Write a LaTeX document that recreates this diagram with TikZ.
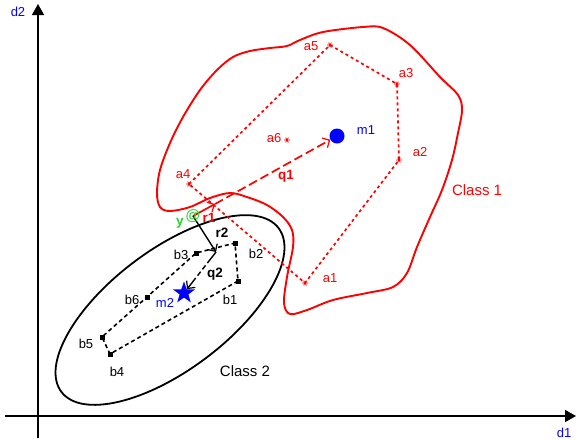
\documentclass[tikz,border=0pt]{standalone}
\usepackage{fontspec}
\setmainfont{Liberation Sans}
\usetikzlibrary{arrows.meta,shapes.geometric}
\definecolor{cred}{RGB}{255,0,0}
\definecolor{cblue}{RGB}{0,0,255}
\definecolor{cgreen}{RGB}{40,210,40}
\tikzset{
  lbl/.style={font=\fontsize{13}{15}\selectfont, inner sep=0},
  bld/.style={font=\fontsize{13.5}{15}\selectfont\bfseries, inner sep=0},
  biglbl/.style={font=\fontsize{15}{17}\selectfont, inner sep=0},
  axis/.style={line width=1.4pt, -{Triangle[length=11pt,width=12pt]}},
  reddots/.style={cred, line width=1.7pt, dash pattern=on 3pt off 3pt},
  blkdots/.style={black, line width=1.6pt, dash pattern=on 4pt off 3pt},
  sq/.style={fill=black, minimum size=5pt, inner sep=0},
  barb/.style={-{Straight Barb[length=5.5pt,width=11pt,line width=1.2pt]}},
  astk/.pic={\draw[cred, line width=0.8pt] (-2.8,0)--(2.8,0) (-1.4,-2.4)--(1.4,2.4) (-1.4,2.4)--(1.4,-2.4);}
}
\begin{document}
\begin{tikzpicture}[x=1pt,y=-1pt]
\useasboundingbox (0,0) rectangle (577,440);

% axes
\coordinate (o1) at (5,416);
\coordinate (xe) at (576,416);
\coordinate (o2) at (38,438);
\coordinate (ye) at (38,4);
\draw[axis] (o1) -- (xe);
\draw[axis] (o2) -- (ye);
\node[lbl, text=cblue] (d1) at (564,433) {d1};
\node[lbl, text=cblue] (d2) at (18,12) {d2};

% class 1 boundary
\draw[cred, line width=1.9pt] plot[smooth cycle, tension=0.55] coordinates {
  (160,207) (157,193) (160,170) (170,143) (183,117) (200,90) (217,70)
  (233,57) (250,51) (270,48) (287,46) (300,40) (323,32) (363,27) (383,28)
  (410,45) (440,77) (458,95) (462,110) (458,133) (452,160) (442,190)
  (430,217) (417,247) (407,273) (393,287) (367,293) (333,300) (307,310)
  (290,314) (284,303) (287,277) (293,247) (292,230) (283,217) (267,205)
  (247,197) (230,193) (210,198) (190,207) (170,211)};
\node[biglbl, text=cred] (c1) at (477,190) {Class 1};

% class 2 boundary
\draw[line width=1.8pt, rotate around={37:(170,310)}] (170,310) ellipse [x radius=136pt, y radius=60pt];
\node[biglbl] (c2) at (245,371) {Class 2};

% class 1 samples
\coordinate (a1) at (305,283);
\coordinate (a2) at (399,160);
\coordinate (a3) at (397,84);
\coordinate (a4) at (189,184);
\coordinate (a5) at (330,45);
\coordinate (a6) at (287,140);
\draw[reddots] (a4) -- (a5) -- (a3) -- (a2) -- (a1) -- cycle;
\foreach \p in {a1,a2,a3,a4,a5,a6} \pic at (\p) {astk};
\node[lbl, text=cred] (la1) at (330,278) {a1};
\node[lbl, text=cred] (la2) at (420,152) {a2};
\node[lbl, text=cred] (la3) at (406,73) {a3};
\node[lbl, text=cred] (la4) at (183,174) {a4};
\node[lbl, text=cred] (la5) at (311,46) {a5};
\node[lbl, text=cred] (la6) at (274,138) {a6};

% class 2 samples
\coordinate (b1) at (238,281);
\coordinate (b2) at (235,243);
\coordinate (b3) at (196,253);
\coordinate (b4) at (110,354);
\coordinate (b5) at (102,337);
\coordinate (b6) at (147,297);
\draw[blkdots] (b1) -- (b4) -- (b5) -- (b6) -- (b3) -- (b2) -- cycle;
\foreach \p in {b1,b2,b3,b4,b5,b6} \node[sq] (s\p) at (\p) {};
\node[lbl] (lb1) at (230,300) {b1};
\node[lbl] (lb2) at (256,254) {b2};
\node[lbl] (lb3) at (181,255) {b3};
\node[lbl] (lb4) at (117,372) {b4};
\node[lbl] (lb5) at (86,344) {b5};
\node[lbl] (lb6) at (132,300) {b6};

% class means
\node[circle, fill=cblue, minimum size=15pt, inner sep=0] (m1) at (337,136) {};
\node[lbl, text=cblue] (lm1) at (366,130) {m1};
\node[star, star points=5, star point ratio=2.5, fill=cblue, minimum size=23pt, inner sep=0] (m2) at (184,293) {};
\node[lbl, text=cblue] (lm2) at (165,303) {m2};

% test sample and its vectors
\coordinate (y) at (193,216);
\coordinate (r1e) at (215,204);
\coordinate (r2e) at (216,252);
\draw[cred, line width=1.7pt, dash pattern=on 9pt off 4pt, barb] (r1e) -- (m1);
\draw[cred, line width=1.7pt, barb] (y) -- (r1e);
\draw[black, line width=1.4pt, barb] (y) -- (r2e);
\draw[black, line width=1.4pt, dash pattern=on 14pt off 3pt on 5pt off 3pt on 5pt off 3pt, barb] (r2e) -- (m2);
\node[text=cgreen, font=\fontsize{15}{17}\selectfont, inner sep=0] (yat) at (y) {@};
\node[bld, text=cgreen] (ly) at (180,223) {y};
\node[bld, text=cred] (lr1) at (209,218) {r1};
\node[bld, text=cred] (lq1) at (286,176) {q1};
\node[bld] (lr2) at (222,233) {r2};
\node[bld] (lq2) at (215,274) {q2};
\end{tikzpicture}
\end{document}
